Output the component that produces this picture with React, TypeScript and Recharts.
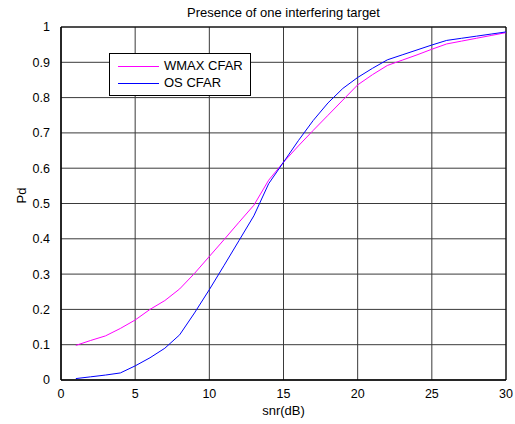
import React from "react";
import {
  LineChart,
  Line,
  XAxis,
  YAxis,
  CartesianGrid,
  Label,
  ReferenceLine,
} from "recharts";

const snr = [
  1, 2, 3, 4, 5, 6, 7, 8, 9, 10, 11, 12, 13, 14, 15, 16, 17, 18, 19, 20, 21,
  22, 23, 24, 25, 26, 27, 28, 29, 30,
];
const wmaxCfar = [
  0.098, 0.112, 0.125, 0.146, 0.17, 0.2, 0.225, 0.258, 0.302, 0.35, 0.398,
  0.447, 0.495, 0.566, 0.617, 0.663, 0.707, 0.75, 0.793, 0.836, 0.865, 0.891,
  0.906, 0.921, 0.937, 0.952, 0.96, 0.968, 0.976, 0.984,
];
const osCfar = [
  0.004, 0.009, 0.014, 0.02, 0.04, 0.063, 0.09, 0.128, 0.19, 0.256, 0.325,
  0.395, 0.465, 0.556, 0.617, 0.678, 0.735, 0.785, 0.826, 0.857, 0.883, 0.907,
  0.921, 0.935, 0.949, 0.962, 0.968, 0.974, 0.98, 0.986,
];
const xTicks = [0, 5, 10, 15, 20, 25, 30];
const yTicks = [0, 0.1, 0.2, 0.3, 0.4, 0.5, 0.6, 0.7, 0.8, 0.9, 1];

const series = [
  { key: "wmax", name: "WMAX CFAR", color: "#ff00ff" },
  { key: "os", name: "OS CFAR", color: "#0000ff" },
];

const data = snr.map((s, i) => ({ snr: s, wmax: wmaxCfar[i], os: osCfar[i] }));

const font = "'Liberation Sans', Arial, sans-serif";
const tickStyle = { fill: "#000", fontSize: 12.5, fontFamily: font };
const labelStyle = { fill: "#000", fontSize: 13, fontFamily: font };

// boxed legend in the upper-left of the plot, drawn over the chart
function LegendBox() {
  return (
    <div
      style={{
        position: "absolute",
        left: 109,
        top: 53,
        width: 140,
        height: 41,
        border: "1px solid #000",
        background: "#fff",
        fontFamily: font,
        fontSize: 13,
        color: "#000",
      }}
    >
      {series.map((s, i) => (
        <React.Fragment key={s.key}>
          <div
            style={{
              position: "absolute",
              top: 12 + i * 17,
              left: 8,
              width: 41,
              height: 1,
              background: s.color,
            }}
          />
          <span
            style={{
              position: "absolute",
              top: 4 + i * 17,
              left: 54,
              lineHeight: "16px",
              whiteSpace: "nowrap",
            }}
          >
            {s.name}
          </span>
        </React.Fragment>
      ))}
    </div>
  );
}

export default function App() {
  return (
    <div
      style={{
        position: "absolute",
        left: 0,
        top: 0,
        width: 515,
        height: 424,
        background: "#fff",
      }}
    >
      <div
        style={{
          position: "absolute",
          top: 5,
          left: 61,
          width: 445,
          textAlign: "center",
          fontFamily: font,
          fontSize: 13,
          lineHeight: "16px",
        }}
      >
        Presence of one interfering target
      </div>
      <LineChart
        width={515}
        height={424}
        data={data}
        margin={{ top: 27, right: 9, bottom: 0, left: 31 }}
      >
        <CartesianGrid stroke="#3a3a3a" strokeWidth={1} />
        <XAxis
          dataKey="snr"
          type="number"
          domain={[0, 30]}
          ticks={xTicks}
          height={44}
          interval={0}
          tickLine={false}
          axisLine={{ stroke: "#000", strokeWidth: 1.5 }}
          tick={tickStyle}
          tickMargin={3}
        >
          <Label
            value="snr(dB)"
            position="insideBottom"
            offset={9}
            style={labelStyle}
          />
        </XAxis>
        <YAxis
          type="number"
          domain={[0, 1]}
          ticks={yTicks}
          width={30}
          interval={0}
          tickLine={false}
          axisLine={{ stroke: "#000", strokeWidth: 1.5 }}
          tick={tickStyle}
          tickMargin={5}
        >
          <Label
            value="Pd"
            angle={-90}
            position="insideLeft"
            offset={-10}
            style={labelStyle}
          />
        </YAxis>
        <ReferenceLine y={1} stroke="#000" strokeWidth={1} />
        <ReferenceLine x={30} stroke="#000" strokeWidth={1} />
        {series.map((s) => (
          <Line
            key={s.key}
            dataKey={s.key}
            name={s.name}
            stroke={s.color}
            strokeWidth={1}
            dot={false}
            isAnimationActive={false}
          />
        ))}
      </LineChart>
      <LegendBox />
    </div>
  );
}
